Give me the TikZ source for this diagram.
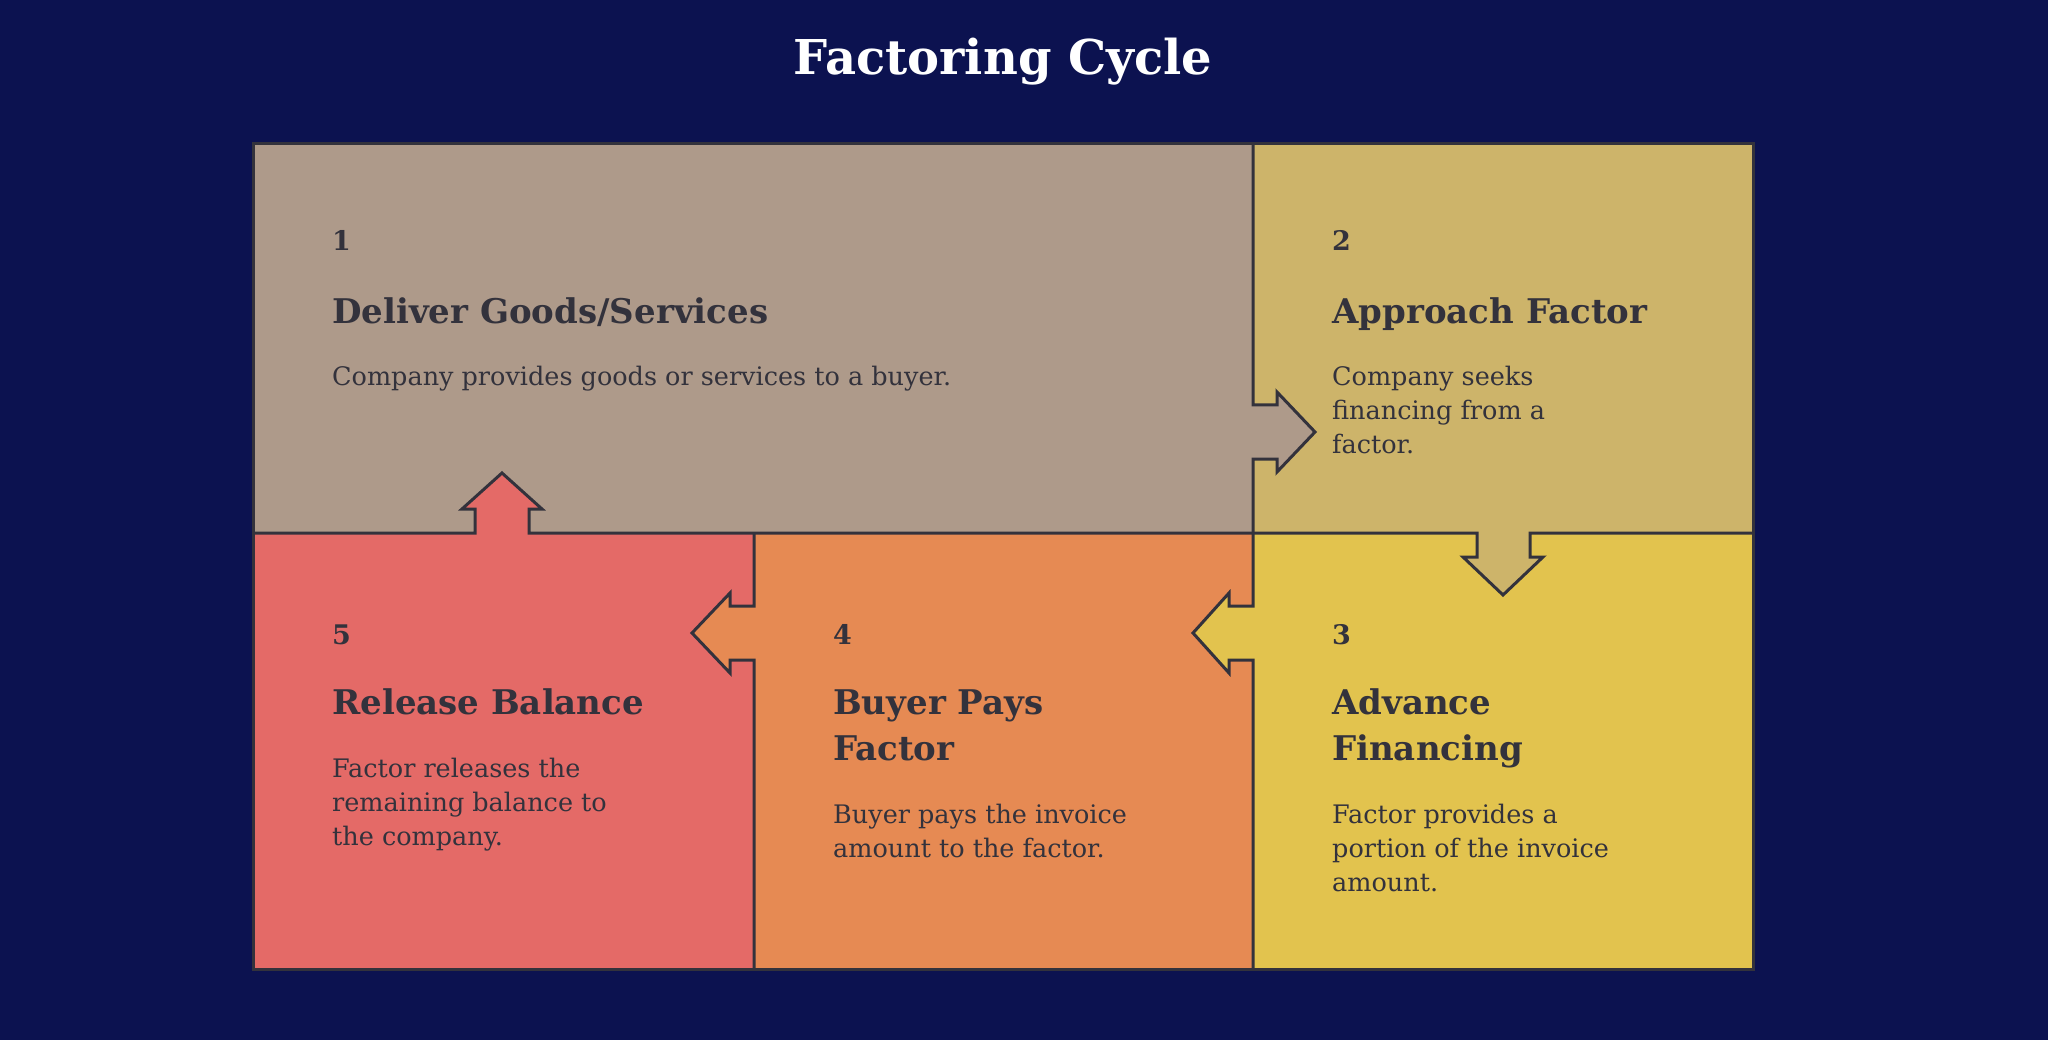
\documentclass[tikz,border=0pt]{standalone}
\usepackage{fontspec}
\setmainfont{DejaVu Serif}
\begin{document}
\definecolor{bg}{HTML}{0C1250}
\definecolor{cA}{HTML}{AE9A8A}
\definecolor{cB}{HTML}{CDB46A}
\definecolor{cC}{HTML}{E2C34E}
\definecolor{cD}{HTML}{E68A53}
\definecolor{cE}{HTML}{E46A67}
\definecolor{ln}{HTML}{33323C}
\begin{tikzpicture}[x=1pt,y=-1pt,
  num/.style={anchor=base west,text=ln,font=\fontsize{27}{30}\selectfont\bfseries,inner sep=0},
  head/.style={anchor=base west,text=ln,align=left,font=\fontsize{34}{46}\selectfont\bfseries,inner sep=0},
  desc/.style={anchor=base west,text=ln,align=left,font=\fontsize{25.5}{34}\selectfont,inner sep=0},
  edge/.style={draw=ln,line width=3pt,line join=miter}]
\fill[bg] (0,0) rectangle (2048,1040);
\useasboundingbox (0,0) rectangle (2048,1040);
\node[text=white,font=\fontsize{48}{52}\selectfont\bfseries] (title) at (1003,62) {Factoring Cycle};
% regions
\fill[cA] (253,144) rectangle (1253,533);
\fill[cB] (1253,144) rectangle (1753,533);
\fill[cE] (253,533) rectangle (754,969);
\fill[cD] (754,533) rectangle (1253,969);
\fill[cC] (1253,533) rectangle (1753,969);
% arrows filled with source colour
\fill[cA] (1253,405) -- (1277,405) -- (1277,392) -- (1315,432) -- (1277,472) -- (1277,459) -- (1253,459) -- cycle;
\fill[cB] (1477,533) -- (1477,557) -- (1463,557) -- (1503,595) -- (1543,557) -- (1530,557) -- (1530,533) -- cycle;
\fill[cC] (1253,606) -- (1229,606) -- (1229,593) -- (1193,633) -- (1229,673) -- (1229,660) -- (1253,660) -- cycle;
\fill[cD] (754,606) -- (730,606) -- (730,593) -- (692,633) -- (730,673) -- (730,660) -- (754,660) -- cycle;
\fill[cE] (475,533) -- (475,509) -- (462,509) -- (502,473) -- (542,509) -- (529,509) -- (529,533) -- cycle;
% outlines
\coordinate (tl) at (253,144); \coordinate (br) at (1753,969);
\draw[edge] (tl) rectangle (br);
\draw[edge] (1253,144) -- (1253,405) -- (1277,405) -- (1277,392) -- (1315,432) -- (1277,472) -- (1277,459) -- (1253,459) -- (1253,606) -- (1229,606) -- (1229,593) -- (1193,633) -- (1229,673) -- (1229,660) -- (1253,660) -- (1253,969);
\draw[edge] (253,533) -- (475,533) -- (475,509) -- (462,509) -- (502,473) -- (542,509) -- (529,509) -- (529,533) -- (1477,533) -- (1477,557) -- (1463,557) -- (1503,595) -- (1543,557) -- (1530,557) -- (1530,533) -- (1753,533);
\draw[edge] (754,533) -- (754,606) -- (730,606) -- (730,593) -- (692,633) -- (730,673) -- (730,660) -- (754,660) -- (754,969);
% texts (multi-line nodes: base = last line)
\node[num] (n1) at (332,251) {1};
\node[head] (h1) at (332,324) {Deliver Goods/Services};
\node[desc] (d1) at (332,385) {Company provides goods or services to a buyer.};
\node[num] (n2) at (1332,251) {2};
\node[head] (h2) at (1332,324) {Approach Factor};
\node[desc] (d2) at (1332,453) {Company seeks\\financing from a\\factor.};
\node[num] (n5) at (332,644) {5};
\node[head] (h5) at (332,714) {Release Balance};
\node[desc] (d5) at (332,845) {Factor releases the\\remaining balance to\\the company.};
\node[num] (n4) at (833,644) {4};
\node[head] (h4) at (833,760) {Buyer Pays\\Factor};
\node[desc] (d4) at (833,857) {Buyer pays the invoice\\amount to the factor.};
\node[num] (n3) at (1332,644) {3};
\node[head] (h3) at (1332,760) {Advance\\Financing};
\node[desc] (d3) at (1332,891) {Factor provides a\\portion of the invoice\\amount.};
\end{tikzpicture}
\end{document}
